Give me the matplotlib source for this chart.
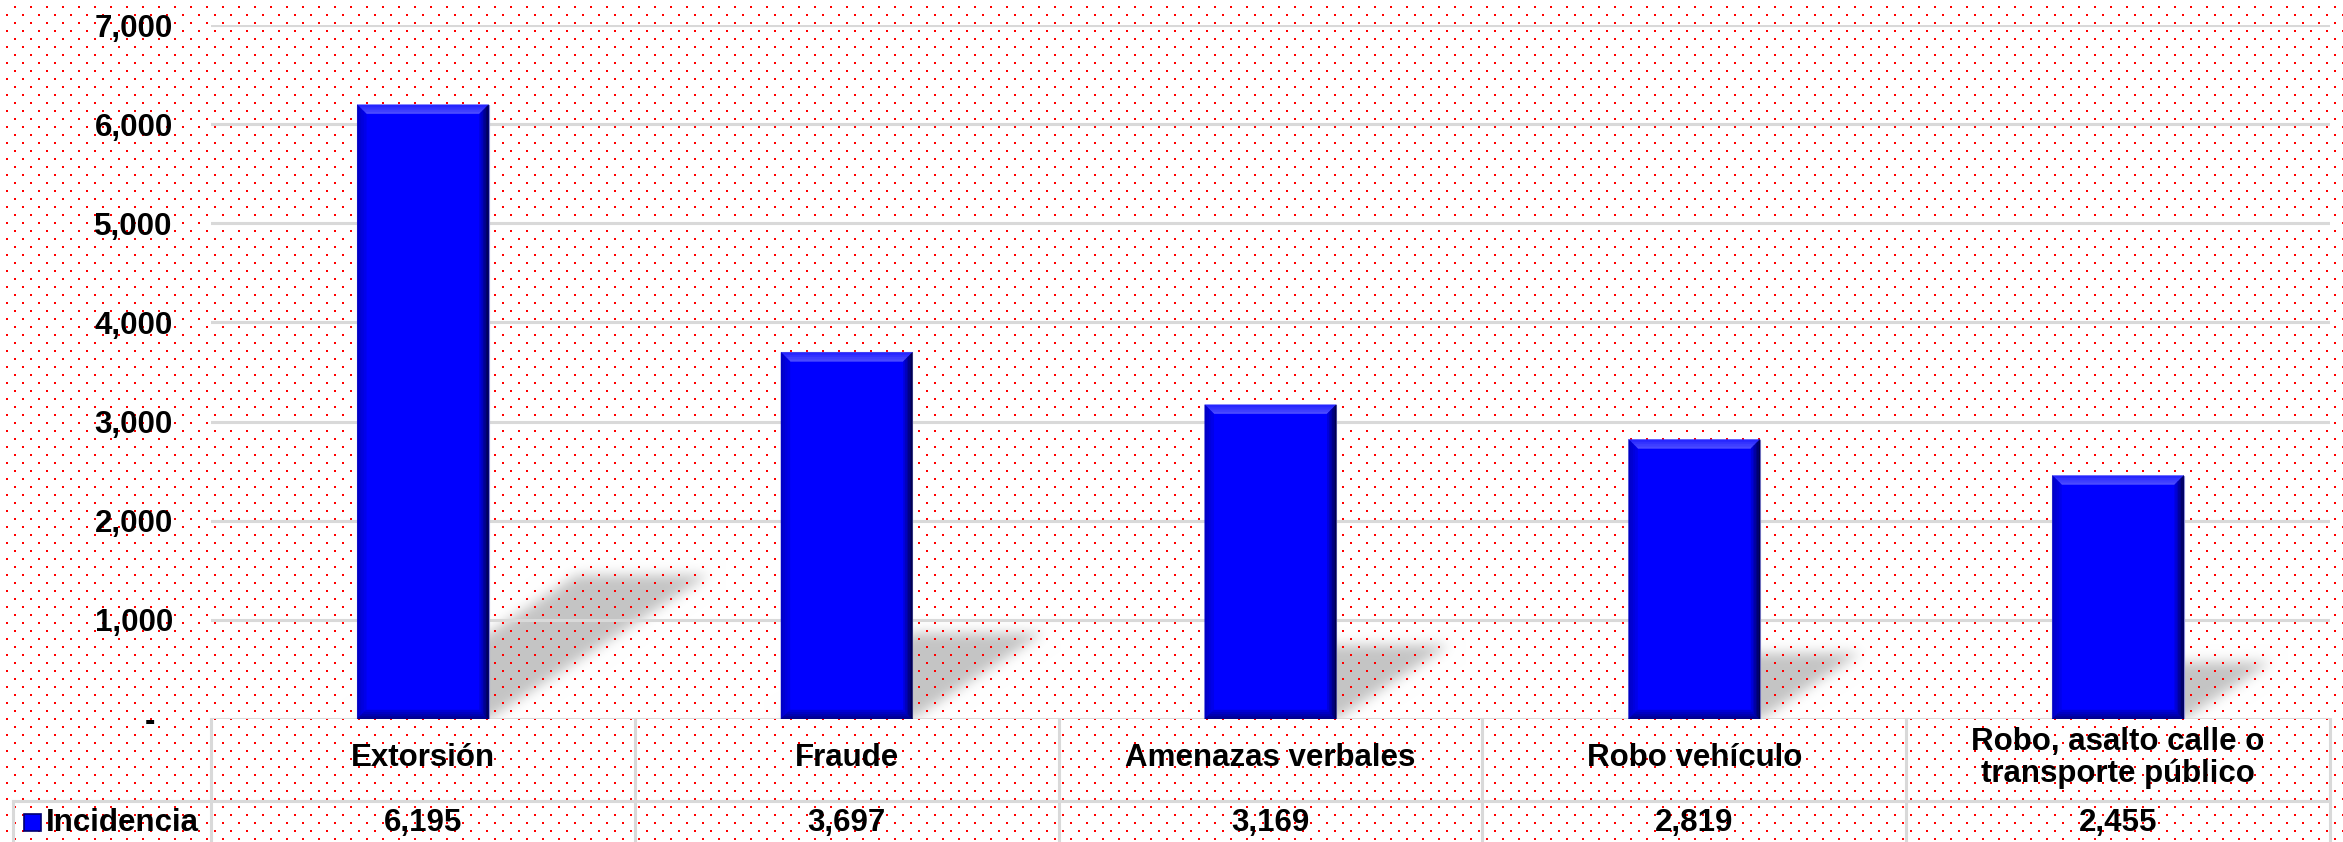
import numpy as np
import matplotlib
matplotlib.use("Agg")
import matplotlib.pyplot as plt
from matplotlib.path import Path
from matplotlib.patches import Rectangle, Polygon
from matplotlib.lines import Line2D
from matplotlib.ticker import FuncFormatter

# ---------------- data ----------------
categories = ["Extorsión", "Fraude", "Amenazas verbales", "Robo vehículo",
              "Robo, asalto calle o\ntransporte público"]
values = [6195, 3697, 3169, 2819, 2455]
series_name = "Incidencia"
yticks = [0, 1000, 2000, 3000, 4000, 5000, 6000, 7000]

# ---------------- layout ----------------
W, H = 2343, 842
FONT = "Liberation Sans"
FS = 22.5
BAR_W = 0.31
BLUE = "#0000ff"
GRID = "#d9d9d9"

plt.rcParams["font.family"] = [FONT, "DejaVu Sans"]
fig = plt.figure(figsize=(W / 100, H / 100), dpi=100)
fig.patch.set_facecolor("white")

# plot area in pixels (from top): left 211, right 2330, top 25, bottom 719
L, R, T, B = 211, 2330, 25, 719
ax = fig.add_axes([L / W, (H - B) / H, (R - L) / W, (B - T) / H])
ax.set_zorder(2)
ax.patch.set_visible(False)
ax.set_xlim(-0.5, len(categories) - 0.5)
ax.set_ylim(0, 7000)
ax.set_yticks(yticks)
ax.set_xticks([])
for s in ax.spines.values():
    s.set_visible(False)
ax.grid(axis="y", color=GRID, lw=2.2)
ax.set_axisbelow(True)
ax.tick_params(axis="y", length=0, pad=27.5)
ax.yaxis.set_major_formatter(FuncFormatter(
    lambda v, p: f"{int(v):,}" if v else "-  "))
for lab in ax.get_yticklabels():
    lab.set_fontsize(FS)
    lab.set_fontweight("bold")

x = np.arange(len(categories))

# pixel scale
p0 = ax.transData.transform((0, 0))
p1 = ax.transData.transform((1, 1000))
px_x = p1[0] - p0[0]            # px per category unit
px_y = (p1[1] - p0[1]) / 1000   # px per value unit

# ---------------- background: shadows + red dot pattern ----------------
img = np.ones((H, W, 3))
acc = np.zeros((H, W))
SH_DX = 220 / 613  # shadow horizontal offset per bar pixel height
SH_DY = 144 / 613
for i, v in enumerate(values):
    xl, xr = i - BAR_W / 2, i + BAR_W / 2
    hp = v * px_y
    dxd = SH_DX * hp / px_x
    dyd = SH_DY * hp / px_y
    verts = ax.transData.transform([(xl, 0), (xr, 0), (xr + dxd, dyd), (xl + dxd, dyd)])
    verts[:, 1] = H - verts[:, 1]
    path = Path(verts)
    c0 = max(int(verts[:, 0].min()) - 2, 0)
    c1 = min(int(verts[:, 0].max()) + 3, W)
    r0 = max(int(verts[:, 1].min()) - 2, 0)
    r1 = min(int(verts[:, 1].max()) + 3, H)
    yy, xx = np.mgrid[r0:r1, c0:c1]
    pts = np.column_stack([xx.ravel() + 0.5, yy.ravel() + 0.5])
    m = path.contains_points(pts).reshape(yy.shape)
    acc[r0:r1, c0:c1] = np.maximum(acc[r0:r1, c0:c1], m)

sig = 6.0
rad = int(3 * sig)
k = np.exp(-0.5 * (np.arange(-rad, rad + 1) / sig) ** 2)
k /= k.sum()
pad = np.pad(acc, rad)
tmp = np.zeros_like(pad)
for j, kj in enumerate(k):
    tmp += kj * np.roll(pad, j - rad, axis=1)
out = np.zeros_like(pad)
for j, kj in enumerate(k):
    out += kj * np.roll(tmp, j - rad, axis=0)
blur = out[rad:-rad, rad:-rad]
zero_row = int(round(H - p0[1]))
blur[zero_row:, :] = 0
shade = 1 - 0.23 * blur
img *= shade[:, :, None]

rr, cc = np.mgrid[0:H, 0:W]
dots = (((rr % 16) // 2 == 3) & ((cc % 16) // 2 == 7)) | \
       (((rr % 16) // 2 == 7) & ((cc % 16) // 2 == 3))
img[dots] = [1.0, 0.0, 0.0]
fig.figimage(img, xo=0, yo=0, origin="upper", zorder=0)

# ---------------- bars with bevel ----------------
ax.bar(x, values, width=BAR_W, color=BLUE, edgecolor="#8c8cd8", lw=0.8, zorder=3)
bev = 9
bx = bev / px_x
by = bev / px_y


def strips(outer, inner, pts_outer, pts_inner, n=5, zorder=4):
    oc = np.array(matplotlib.colors.to_rgb(outer))
    ic = np.array(matplotlib.colors.to_rgb(inner))
    po = np.array(pts_outer)
    pi = np.array(pts_inner)
    for s in range(n):
        a0, a1 = s / n, (s + 1) / n
        q0 = po + (pi - po) * a0
        q1 = po + (pi - po) * a1
        col = oc + (ic - oc) * (s + 0.5) / n
        ax.add_patch(Polygon([q0[0], q0[1], q1[1], q1[0]], closed=True,
                             fc=col, ec=col, lw=0.3, zorder=zorder))


for i, v in enumerate(values):
    xl, xr = i - BAR_W / 2, i + BAR_W / 2
    # top (lighter)
    strips("#2020ff", "#5050ff", [(xl, v), (xr, v)], [(xl + bx, v - by), (xr - bx, v - by)], n=4)
    # left
    strips("#0000c0", "#0000f0", [(xl, v), (xl, 0)], [(xl + bx, v - by), (xl + bx, by)], n=4)
    # bottom
    strips("#000080", "#0000e0", [(xl, 0), (xr, 0)], [(xl + bx, by), (xr - bx, by)], n=5)
    # right (darkest)
    strips("#000040", "#0000e8", [(xr, v), (xr, 0)], [(xr - bx, v - by), (xr - bx, by)], n=6)

# ---------------- data table ----------------
tr = ax.get_xaxis_transform()
row_y = -(801 - B) / (B - T)
bot_y = -(H + 10 - B) / (B - T)
for xv in np.arange(-0.5, len(categories), 1.0):
    ax.add_line(Line2D([xv, xv], [0, bot_y], transform=tr, color=GRID, lw=2.2,
                       clip_on=False, zorder=1))
leg_x = ax.transData.inverted().transform((13, 0))[0]
ax.add_line(Line2D([leg_x, len(categories) - 0.5], [row_y, row_y], transform=tr,
                   color=GRID, lw=2.2, clip_on=False, zorder=1))
ax.add_line(Line2D([leg_x, leg_x], [row_y, bot_y], transform=tr, color=GRID, lw=2.2,
                   clip_on=False, zorder=1))

cat_y = -(758 - B) / (B - T)
val_y = -(823 - B) / (B - T)
for i, (c, v) in enumerate(zip(categories, values)):
    ax.text(i, cat_y, c, transform=tr, ha="center", va="center", fontsize=FS,
            fontweight="bold", linespacing=1.05, clip_on=False)
    ax.text(i, val_y, f"{v:,}", transform=tr, ha="center", va="center", fontsize=FS,
            fontweight="bold", clip_on=False)

# legend key + label
fig.add_artist(Rectangle((24 / W, (H - 831) / H), 17 / W, 17 / H, transform=fig.transFigure,
                         fc=BLUE, ec="#000070", lw=1.2, zorder=3))
fig.text(46 / W, (H - 823) / H, series_name, ha="left", va="center", fontsize=FS,
         fontweight="bold", zorder=3)

fig.savefig("out.png", dpi=100, facecolor="white")
